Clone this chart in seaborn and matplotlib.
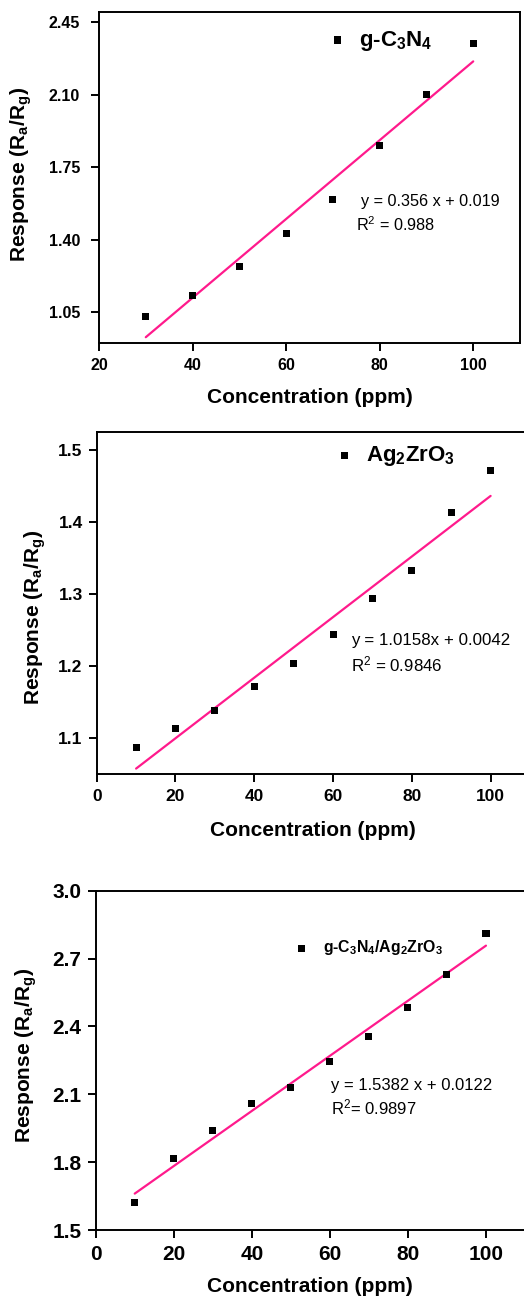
import numpy as np
import pandas as pd
import matplotlib
matplotlib.use("Agg")
import matplotlib.pyplot as plt
import seaborn as sns

# =====================================
# Data
# =====================================

conc_gcn = [30, 40, 50, 60, 70, 80, 90, 100]
resp_gcn = [1.03, 1.13, 1.27, 1.43, 1.594, 1.854, 2.10, 2.349]

conc_azo = [10, 20, 30, 40, 50, 60, 70, 80, 90, 100]
resp_azo = [1.087, 1.113, 1.138, 1.172, 1.203, 1.243, 1.294, 1.333, 1.413, 1.471]

conc_comp = [10, 20, 30, 40, 50, 60, 70, 80, 90, 100]
resp_comp = [1.622, 1.818, 1.938, 2.060, 2.131, 2.243, 2.354, 2.485, 2.629, 2.810]

labels = ["g-C$_3$N$_4$", "Ag$_2$ZrO$_3$", "g-C$_3$N$_4$/Ag$_2$ZrO$_3$"]
equations = ["y = 0.356 x + 0.019", "y = 1.0158x + 0.0042", "y = 1.5382 x + 0.0122"]
r2_texts = ["R$^2$ = 0.988", "R$^2$ = 0.9846", "R$^2$= 0.9897"]

yticks_all = [[1.05, 1.40, 1.75, 2.10, 2.45],
              [1.1, 1.2, 1.3, 1.4, 1.5],
              [1.5, 1.8, 2.1, 2.4, 2.7, 3.0]]
xticks_all = [[20, 40, 60, 80, 100],
              [0, 20, 40, 60, 80, 100],
              [0, 20, 40, 60, 80, 100]]

# =====================================
# Style
# =====================================

sns.set_theme(style="ticks")
plt.rcParams["font.family"] = ["Liberation Sans", "DejaVu Sans"]
plt.rcParams["mathtext.default"] = "regular"
plt.rcParams["text.color"] = "black"
plt.rcParams["axes.labelcolor"] = "black"
plt.rcParams["xtick.color"] = "black"
plt.rcParams["ytick.color"] = "black"

LINE_COLOR = "#FF1A8C"

fig = plt.figure(figsize=(5.24, 13), dpi=100)

# axes rectangles (figure fraction)
rects = [
    [99 / 524, 1 - 343 / 1300, 421 / 524, 331 / 1300],
    [96.7 / 524, 1 - 774 / 1300, 433.3 / 524, 342.3 / 1300],
    [95.7 / 524, 1 - 1230 / 1300, 429.3 / 524, 339.3 / 1300],
]

datasets = [
    pd.DataFrame({"conc": conc_gcn, "resp": resp_gcn}),
    pd.DataFrame({"conc": conc_azo, "resp": resp_azo}),
    pd.DataFrame({"conc": conc_comp, "resp": resp_comp}),
]

xlims = [(20, 110), (0, 110), (0, 110)]
ylims = [(0.90, 2.50), (1.05, 1.525), (1.5, 3.0)]
yfmt = ["%.2f", "%.1f", "%.1f"]
tick_fs = [11.5, 12.5, 15]
ytick_pad = [7.5, 4, 4.3]
label_fs = [15, 15, 15]
legend_fs = [16, 16, 11.4]
legend_pad = [0.49, 0.48, 0.87]
legend_pos = [(0.540, 0.913), (0.546, 0.929), (0.4614, 0.832)]
eq_pos = [(0.6225, 0.427), (0.586, 0.391), (0.5474, 0.427)]
r2_pos = [(0.611, 0.3565), (0.586, 0.3205), (0.5474, 0.3616)]
eq_fs = [11.7, 12.2, 12]
ylabel_coords = [(-0.155, 0.51), (-0.112, 0.456), (-0.132, 0.513)]
xlabel_coords = [(0.5, -0.136), (0.499, -0.137), (0.499, -0.1385)]

for i in range(3):
    ax = fig.add_axes(rects[i])
    df = datasets[i]

    sns.regplot(
        data=df,
        x="conc",
        y="resp",
        ax=ax,
        ci=None,
        marker="s",
        color="black",
        label=labels[i],
        scatter_kws={"s": 26, "edgecolor": "none", "alpha": 1, "zorder": 3},
        line_kws={"color": LINE_COLOR, "linewidth": 1.6, "zorder": 2},
    )

    ax.set_xlim(*xlims[i])
    ax.set_ylim(*ylims[i])
    ax.set_xticks(xticks_all[i])
    ax.set_yticks(yticks_all[i])
    ax.yaxis.set_major_formatter(matplotlib.ticker.FormatStrFormatter(yfmt[i]))

    for side in ["top", "right", "left", "bottom"]:
        ax.spines[side].set_visible(True)
        ax.spines[side].set_color("black")
        ax.spines[side].set_linewidth(1.4)

    ax.tick_params(axis="both", direction="out", length=6.1, width=1.4,
                   color="black", labelcolor="black", labelsize=tick_fs[i])
    ax.tick_params(axis="x", pad=4.5)
    ax.tick_params(axis="y", pad=ytick_pad[i])
    for lab in ax.get_xticklabels() + ax.get_yticklabels():
        lab.set_fontweight("bold")

    ax.set_xlabel("Concentration (ppm)", fontsize=label_fs[i], fontweight="bold")
    ax.set_ylabel("Response (R$_a$/R$_g$)", fontsize=label_fs[i], fontweight="bold")
    ax.xaxis.set_label_coords(*xlabel_coords[i])
    ax.yaxis.set_label_coords(*ylabel_coords[i])

    ax.legend(
        loc="center left",
        bbox_to_anchor=legend_pos[i],
        frameon=False,
        borderpad=0,
        borderaxespad=0,
        handlelength=1,
        handletextpad=legend_pad[i],
        prop={"size": legend_fs[i], "weight": "bold"},
    )

    ax.text(*eq_pos[i], equations[i], transform=ax.transAxes,
            fontsize=eq_fs[i], va="center", ha="left")
    ax.text(*r2_pos[i], r2_texts[i], transform=ax.transAxes,
            fontsize=eq_fs[i], va="center", ha="left")

fig.savefig("out.png", dpi=100)
